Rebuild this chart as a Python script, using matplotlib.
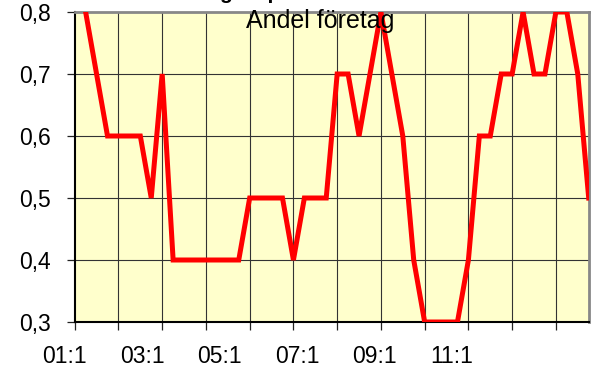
import numpy as np
import matplotlib.pyplot as plt
import matplotlib.transforms as mtransforms

plt.rcParams['font.family'] = ['Liberation Sans', 'DejaVu Sans']

# kvartalsvärden 2001:1 - 2012:4
andel = [0.9, 0.8, 0.7, 0.6, 0.6, 0.6, 0.6, 0.5, 0.7, 0.4,
         0.4, 0.4, 0.4, 0.4, 0.4, 0.4, 0.5, 0.5, 0.5, 0.5,
         0.4, 0.5, 0.5, 0.5, 0.7, 0.7, 0.6, 0.7, 0.8, 0.7,
         0.6, 0.4, 0.3, 0.3, 0.3, 0.3, 0.4, 0.6, 0.6, 0.7,
         0.7, 0.8, 0.7, 0.7, 0.8, 0.8, 0.7, 0.5]
x_labels = ['01:1', '03:1', '05:1', '07:1', '09:1', '11:1']
y_ticks = [0.3, 0.4, 0.5, 0.6, 0.7, 0.8]

x = np.arange(len(andel))

fig = plt.figure(figsize=(5.92, 3.70), dpi=100)
ax = fig.add_axes([74.7 / 592, 1 - 322 / 370, 514 / 592, 310 / 370])
ax.set_facecolor('#FFFFCC')

ax.plot(x, andel, color='#FF0000', lw=3.6, solid_joinstyle='miter', zorder=5)

# rutnät
for xv in range(4, len(andel), 4):
    ax.axvline(xv, color='#333333', lw=0.8, zorder=1)
for yv in y_ticks[1:-1]:
    ax.axhline(yv, color='#333333', lw=0.8, zorder=1)

# axlar
ax.set_yticks(y_ticks)
ax.set_yticklabels([f'{v:.1f}'.replace('.', ',') for v in y_ticks], fontsize=16.5)
ax.tick_params(axis='y', direction='out', length=6, width=0.9, color='#222222', pad=11)

ax.set_xticks(range(0, len(andel) - 1, 4))
ax.set_xticklabels([])
ax.tick_params(axis='x', direction='out', length=6, width=0.9, color='#222222')

ax.set_xlim(0, len(andel) - 1)
ax.set_ylim(0.3, 0.8)

# kategorietiketter, var åttonde kvartal
trans = mtransforms.blended_transform_factory(ax.transData, ax.transAxes)
label_pos = np.arange(len(x_labels)) * 7.08 - 0.92
for pos, lab in zip(label_pos, x_labels):
    ax.text(pos, -23 / 310, lab, transform=trans, fontsize=16.5, ha='center', va='top',
            clip_on=False)

for side in ['left', 'bottom']:
    ax.spines[side].set_color('black')
    ax.spines[side].set_linewidth(1.5)
for side in ['top', 'right']:
    ax.spines[side].set_color('#888888')
    ax.spines[side].set_linewidth(2)

# rubriker
fig.text(161 / 592, 1 + 1 / 370, 'Ökning av personal', fontsize=15, fontweight='bold',
         ha='left', va='baseline')
fig.text(320.5 / 592, 1 - 28 / 370, 'Andel företag', fontsize=18, ha='center', va='baseline',
         zorder=10)

fig.savefig('out.png', dpi=100)
